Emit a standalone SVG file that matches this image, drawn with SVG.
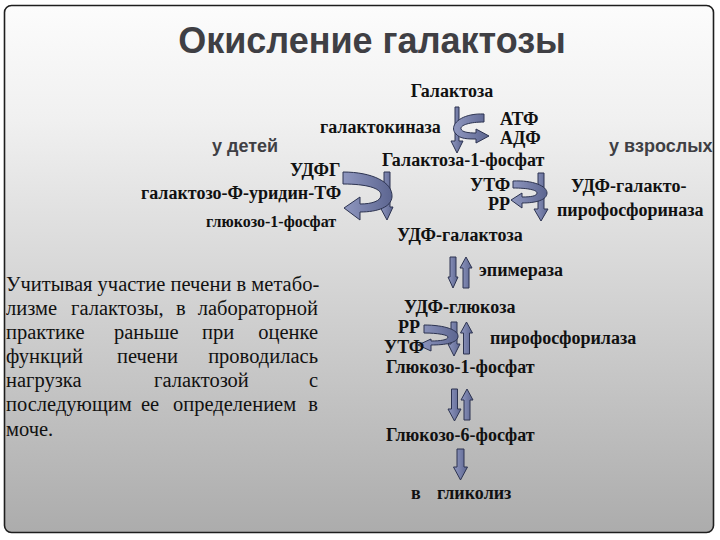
<svg xmlns="http://www.w3.org/2000/svg" width="720" height="540" viewBox="0 0 720 540">
<defs>
<linearGradient id="bg" x1="0" y1="0" x2="0" y2="1">
<stop offset="0" stop-color="#fcfcfc"/>
<stop offset="0.22" stop-color="#f0f0f0"/>
<stop offset="1" stop-color="#acacac"/>
</linearGradient>
<linearGradient id="ar" x1="0" y1="0" x2="1" y2="0">
<stop offset="0" stop-color="#9098c0"/>
<stop offset="1" stop-color="#5c6590"/>
</linearGradient>
<style>
.t{font-family:"Liberation Serif","Times New Roman",serif;font-weight:bold;font-size:18px;fill:#111}
.s{font-size:16px}
.h{font-family:"Liberation Sans",Arial,sans-serif;font-weight:bold;fill:#3f3f44}
.p{font-family:"Liberation Serif","Times New Roman",serif;font-size:20.5px;fill:#111}
.a{fill:url(#ar);stroke:#2c3350;stroke-width:1;stroke-linejoin:round}
</style>
</defs>
<rect x="4.5" y="5.5" width="709" height="527" rx="7" fill="url(#bg)" stroke="#1e1e1e" stroke-width="1.6"/>
<text class="h" x="372" y="53" font-size="36" text-anchor="middle">Окисление галактозы</text>
<text class="h" x="212" y="152" font-size="18">у детей</text>
<text class="h" x="609" y="152" font-size="18">у взрослых</text>

<g id="connectors">
<polygon class="a" points="455,107 459,107 459,141 463,141 457,153 451,141 455,141"/>
<path class="a" d="M484,114 C460,113 448,126 456,134 C460,139 468,139 476,139 L476,143 L489,136 L476,129 L476,133 C468,133 462,132 461,129 C460,125 470,122 484,122 Z"/>
<polygon class="a" points="384,172 390,172 390,207 393,207 387,220 380,207 384,207"/>
<path class="a" d="M343,172 C372,172 393,182 392,197 C391,207 378,212 360,212 L360,220 L344,208 L360,197 L360,204 C372,204 381,201 381,195 C381,188 366,184 343,184 Z"/>
<polygon class="a" points="538,173 544,173 544,209 548,209 541,221 534,209 538,209"/>
<path class="a" d="M513,181 C533,180 547,186 547,193 C547,200 536,203 522,203 L522,208 L511,200 L522,193 L522,197 C531,197 537,196 537,193 C537,190 528,188 513,188 Z"/>
<polygon class="a" points="450,257 456,257 456,277 458,277 453,288 448,277 450,277"/>
<polygon class="a" points="463,288 469,288 469,268 472,268 466,257 460,268 463,268"/>
<polygon class="a" points="451,322 457,322 457,344 460,344 454,356 448,344 451,344"/>
<polygon class="a" points="463.5,354 469.5,354 469.5,333 472.5,333 466.5,322 460.5,333 463.5,333"/>
<path class="a" d="M424,325 C445,325 459,330 458,337 C457,343 445,345 431,345 L431,351 L418,345 L431,339 L431,341 C440,341 448,340 448,337 C448,335 438,333 424,333 Z"/>
<polygon class="a" points="451.5,389 457.5,389 457.5,409 461,409 454.5,421 448,409 451.5,409"/>
<polygon class="a" points="464,420 470,420 470,400 473,400 467,389 461,400 464,400"/>
<polygon class="a" points="457,449 464,449 464,467 467.5,467 460.5,480 453.5,467 457,467"/>
</g>

<g id="galactose"><text class="t" x="452" y="97" text-anchor="middle">Галактоза</text></g>
<g id="galactokinase"><text class="t" x="320" y="133">галактокиназа</text></g>
<g id="atp-adp"><text class="t" x="500" y="125">АТФ</text><text class="t" x="500" y="144">АДФ</text></g>
<g id="gal1p"><text class="t" x="382" y="166">Галактоза-1-фосфат</text></g>
<g id="children"><text class="t" x="290" y="176">УДФГ</text><text class="t" x="141" y="199">галактозо-Ф-уридин-ТФ</text><text class="t s" x="206" y="227">глюкозо-1-фосфат</text></g>
<g id="adults"><text class="t" x="470" y="191" font-size="17">УТФ</text><text class="t" x="488" y="210" font-size="17">РР</text><text class="t" x="571" y="192">УДФ-галакто-</text><text class="t" x="557" y="216">пирофосфориназа</text></g>
<g id="udpgal"><text class="t" x="397" y="241">УДФ-галактоза</text></g>
<g id="epimerase"><text class="t" x="479" y="276">эпимераза</text></g>
<g id="udpglc"><text class="t" x="404" y="313">УДФ-глюкоза</text></g>
<g id="pp-utp"><text class="t" x="398" y="333">РР</text><text class="t" x="384" y="353">УТФ</text></g>
<g id="pyrophosphorylase"><text class="t" x="490" y="344">пирофосфорилаза</text></g>
<g id="glc1p"><text class="t" x="386" y="373">Глюкозо-1-фосфат</text></g>
<g id="glc6p"><text class="t" x="386" y="441">Глюкозо-6-фосфат</text></g>
<g id="glycolysis"><text class="t" x="411" y="499">в</text><text class="t" x="437" y="499">гликолиз</text></g>

<g id="note" class="p">
<text x="6" y="291">Учитывая участие печени в метабо-</text>
<text y="315"><tspan x="6">лизме</tspan><tspan x="71">галактозы,</tspan><tspan x="176">в</tspan><tspan x="318" text-anchor="end">лабораторной</tspan></text>
<text y="339"><tspan x="6">практике</tspan><tspan x="114">раньше</tspan><tspan x="202">при</tspan><tspan x="318" text-anchor="end">оценке</tspan></text>
<text y="363"><tspan x="6">функций</tspan><tspan x="117">печени</tspan><tspan x="318" text-anchor="end">проводилась</tspan></text>
<text y="387"><tspan x="6">нагрузка</tspan><tspan x="154">галактозой</tspan><tspan x="318" text-anchor="end">с</tspan></text>
<text y="411"><tspan x="6">последующим</tspan><tspan x="141">ее</tspan><tspan x="173">определением</tspan><tspan x="318" text-anchor="end">в</tspan></text>
<text x="6" y="436">моче.</text>
</g>
</svg>
